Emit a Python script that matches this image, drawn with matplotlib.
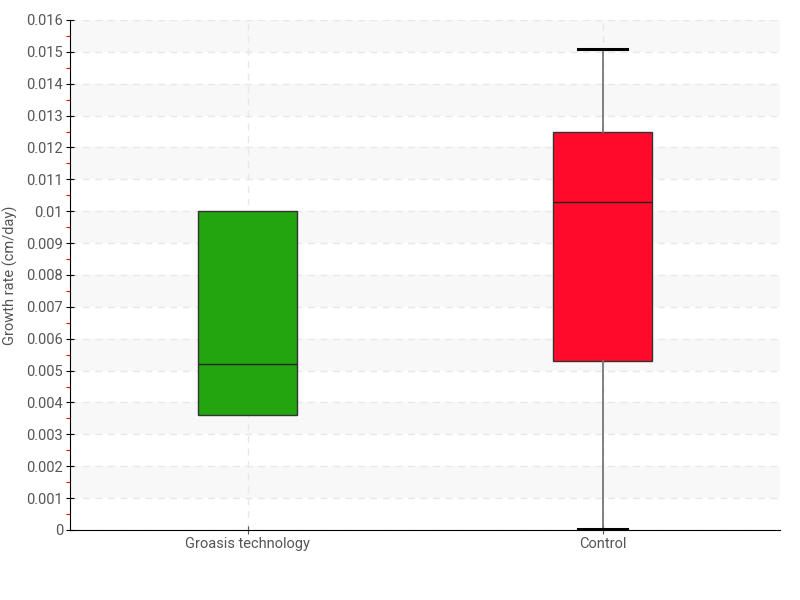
import matplotlib
matplotlib.use('Agg')
import matplotlib.pyplot as plt
import numpy as np

plt.rcParams['font.family'] = ['Roboto', 'DejaVu Sans']

categories = ['Groasis technology', 'Control']
colors = ['#22a50f', '#ff0a2a']
q1 = [0.0036, 0.0053]
medians = [0.0052, 0.0103]
q3 = [0.0100, 0.0125]
whislo = [0.0036, 0.00003]
whishi = [0.0100, 0.0151]

yticks = [i / 1000 for i in range(17)]
ytick_labels = ['0', '0.001', '0.002', '0.003', '0.004', '0.005', '0.006', '0.007',
                '0.008', '0.009', '0.01', '0.011', '0.012', '0.013', '0.014',
                '0.015', '0.016']

fig = plt.figure(figsize=(8, 6), dpi=100)
ax = fig.add_axes([0.0875, 0.1167, 0.8875, 0.85])

positions = [0.5, 1.5]
stats = []
for i, name in enumerate(categories):
    stats.append({'label': name, 'q1': q1[i], 'med': medians[i], 'q3': q3[i],
                  'whislo': whislo[i], 'whishi': whishi[i], 'fliers': []})

bp = ax.bxp(stats, positions=positions, widths=0.28, patch_artist=True,
            showfliers=False, zorder=3,
            boxprops=dict(edgecolor='#333333', linewidth=1),
            medianprops=dict(color='#222222', linewidth=1),
            whiskerprops=dict(color='#777777', linewidth=1.3),
            capprops=dict(color='black', linewidth=2.2))
for patch, c in zip(bp['boxes'], colors):
    patch.set_facecolor(c)
# caps only where a whisker actually extends
for i in range(len(categories)):
    if whislo[i] == q1[i]:
        bp['caps'][2 * i].set_visible(False)
    if whishi[i] == q3[i]:
        bp['caps'][2 * i + 1].set_visible(False)

ax.set_xlim(0, 2)
ax.set_ylim(0, 0.016)

# alternating bands
for k in range(1, 16, 2):
    ax.axhspan(yticks[k], yticks[k + 1], color='#f8f8f8', zorder=0, lw=0)

ax.set_yticks(yticks)
ax.set_yticklabels(ytick_labels)
ax.set_yticks([t + 0.0005 for t in yticks[:-1]], minor=True)
ax.set_xticks(positions)
ax.set_xticklabels(categories)

ax.grid(True, axis='both', which='major', linestyle=(0, (5, 4)), color='#e8e8e8',
        linewidth=1, zorder=1)
ax.set_axisbelow(True)

for s in ['top', 'right']:
    ax.spines[s].set_visible(False)
ax.spines['left'].set_color('black')
ax.spines['bottom'].set_color('black')

ax.tick_params(axis='y', which='major', direction='inout', length=6, color='black',
               labelsize=10.5, labelcolor='#555555', pad=2)
ax.tick_params(axis='y', which='minor', direction='out', length=3, width=0.8, color='red')
ax.tick_params(axis='x', which='major', direction='inout', length=6, color='#555555',
               labelsize=10.5, labelcolor='#555555', pad=2)

ax.set_ylabel('Growth rate (cm/day)', fontsize=10.5, color='#555555', labelpad=6)

plt.savefig('out.png', dpi=100)
